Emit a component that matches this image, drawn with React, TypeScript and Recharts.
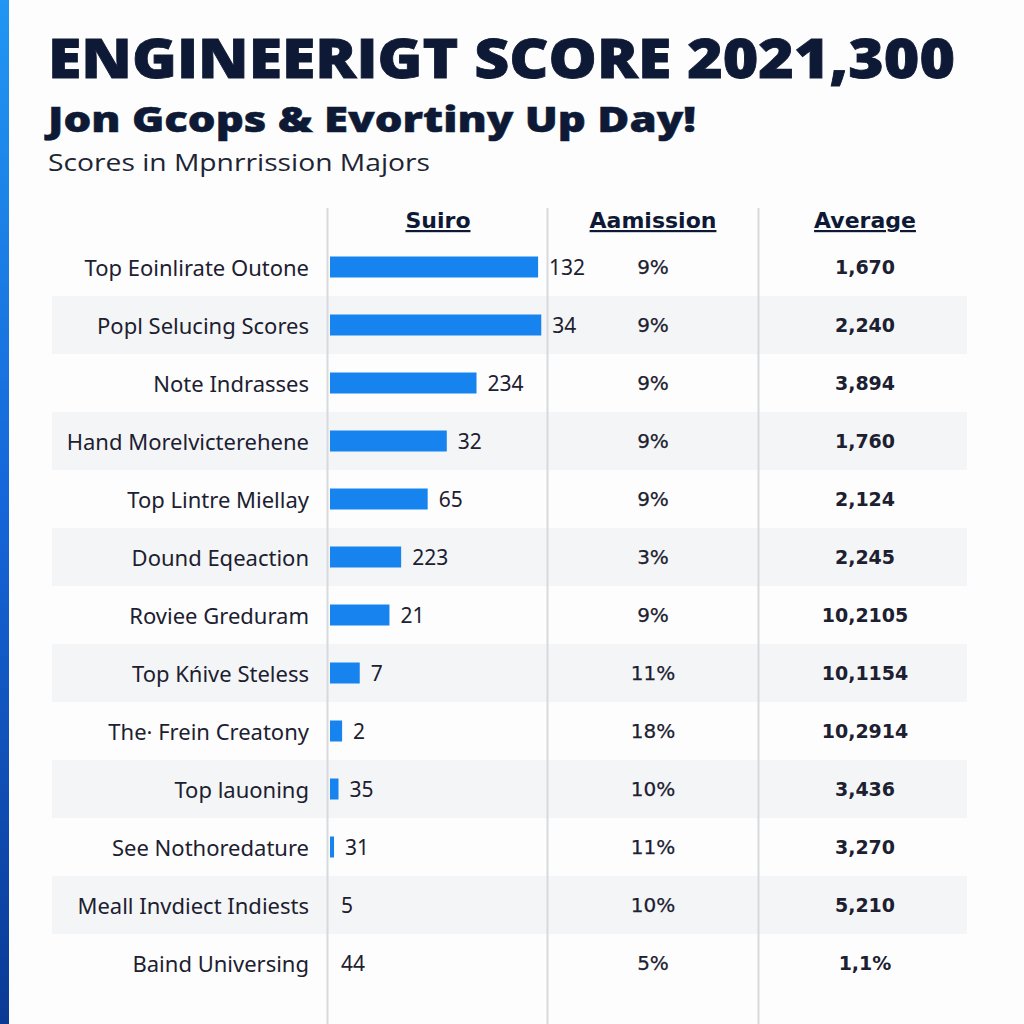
import React from "react";
import { BarChart, Bar, XAxis, YAxis, LabelList } from "recharts";

const majors = [
  "Top Eoinlirate Outone",
  "Popl Selucing Scores",
  "Note Indrasses",
  "Hand Morelvicterehene",
  "Top Lintre Miellay",
  "Dound Eqeaction",
  "Roviee Greduram",
  "Top Kńive Steless",
  "The· Frein Creatony",
  "Top lauoning",
  "See Nothoredature",
  "Meall Invdiect Indiests",
  "Baind Universing",
];
// bar lengths (scale 0-300)
const scoreValues = [98, 99.5, 69, 55, 46, 33.5, 28, 14, 5.7, 4, 1.9, 0, 0];
const scoreLabels = ["132", "34", "234", "32", "65", "223", "21", "7", "2", "35", "31", "5", "44"];
const admissionLabels = ["9%", "9%", "9%", "9%", "9%", "3%", "9%", "11%", "18%", "10%", "11%", "10%", "5%"];
const averageLabels = [
  "1,670", "2,240", "3,894", "1,760", "2,124", "2,245", "10,2105",
  "10,1154", "10,2914", "3,436", "3,270", "5,210", "1,1%",
];
const columnHeaders = ["Suiro", "Aamission", "Average"];

const rows = majors.map((name, i) => ({
  name,
  score: scoreValues[i],
  scoreLabel: scoreLabels[i],
  admission: admissionLabels[i],
  average: averageLabels[i],
}));

const NAVY = "#0e1a35";
const TEXT = "#1c2030";
const BLUE = "#1683ee";

const box = (p: any) => {
  const vb = p.viewBox || {};
  return {
    x: Number(vb.x ?? p.x),
    y: Number(vb.y ?? p.y),
    width: Number(vb.width ?? p.width),
    height: Number(vb.height ?? p.height),
  };
};

function Stripe(props: any) {
  const { y, height, index } = props;
  if (index % 2 === 0) return <g />;
  return <rect x={52} y={y} width={915} height={height} fill="#f4f5f6" />;
}

function ThinBar(props: any) {
  const { x, y, width, height } = props;
  if (!width || width <= 0) return <g />;
  const h = 21;
  return <rect x={x} y={y + (height - h) / 2} width={width} height={h} fill={BLUE} />;
}

function NameTick(props: any) {
  const { x, y, payload } = props;
  return (
    <text x={x} y={y} textAnchor="end" dominantBaseline="central" fontSize={22} fill={TEXT} fontFamily="Noto Sans">
      {payload.value}
    </text>
  );
}

function ScoreLabel(props: any) {
  const b = box(props);
  return (
    <text x={b.x + b.width + 11} y={b.y + b.height / 2} dominantBaseline="central" fontSize={21} fill={TEXT} fontFamily="Noto Sans">
      {props.value}
    </text>
  );
}

const columnLabel = (cx: number, bold: boolean) => (props: any) => {
  const b = box(props);
  return (
    <text
      x={cx}
      y={b.y + b.height / 2}
      textAnchor="middle"
      dominantBaseline="central"
      fontSize={bold ? 19 : 20}
      fontWeight={bold ? 700 : 400}
      fill={TEXT}
      stroke={bold ? "none" : TEXT}
      strokeWidth={bold ? 0 : 0.25}
      fontFamily="DejaVu Sans"
    >
      {props.value}
    </text>
  );
};

export default function App() {
  return (
    <div style={{ position: "absolute", left: 0, top: 0, width: 1024, height: 1024, background: "#fdfdfd", overflow: "hidden" }}>
      <div
        style={{
          position: "absolute", left: 0, top: 0, width: 9, height: 1024,
          background: "linear-gradient(180deg, #2196f3 0%, #1565d8 50%, #0b3a95 100%)",
        }}
      />
      <div style={{ position: "absolute", left: 0, top: 0 }}>
        <BarChart
          width={1024}
          height={1024}
          layout="vertical"
          data={rows}
          margin={{ top: 238, right: 57, bottom: 32, left: 0 }}
          barCategoryGap={0}
        >
          <XAxis type="number" domain={[0, 300]} hide />
          <YAxis
            type="category"
            dataKey="name"
            width={330}
            axisLine={false}
            tickLine={false}
            tickMargin={15}
            interval={0}
            tick={<NameTick />}
          />
          <Bar dataKey="score" isAnimationActive={false} background={Stripe} shape={ThinBar}>
            <LabelList dataKey="scoreLabel" content={ScoreLabel} />
            <LabelList dataKey="admission" content={columnLabel(653, false)} />
            <LabelList dataKey="average" content={columnLabel(865, true)} />
          </Bar>
        </BarChart>
      </div>
      <svg width={1024} height={1024} style={{ position: "absolute", left: 0, top: 0, pointerEvents: "none" }}>
        <text x={48} y={78} fontFamily="Open Sans" fontWeight={800} fontSize={54} fill={NAVY} stroke={NAVY} strokeWidth={0.8} textLength={907} lengthAdjust="spacingAndGlyphs">
          ENGINEERIGT SCORE 2021,300
        </text>
        <text x={48} y={132} fontFamily="Open Sans" fontWeight={800} fontSize={36} fill={NAVY} stroke={NAVY} strokeWidth={0.5} textLength={648} lengthAdjust="spacingAndGlyphs">
          Jon Gcops &amp; Evortiny Up Day!
        </text>
        <text x={48} y={171} fontFamily="Open Sans" fontWeight={400} fontSize={24} fill="#1d2535" textLength={382} lengthAdjust="spacingAndGlyphs">
          Scores in Mpnrrission Majors
        </text>
        {[438, 653, 865].map((cx, i) => (
          <text
            key={columnHeaders[i]}
            x={cx}
            y={228}
            textAnchor="middle"
            fontFamily="DejaVu Sans"
            fontWeight={700}
            fontSize={22}
            fill={NAVY}
            style={{ textDecoration: "underline" }}
          >
            {columnHeaders[i]}
          </text>
        ))}
        {[327.5, 547.5, 758.5].map((x) => (
          <line key={x} x1={x} x2={x} y1={208} y2={1024} stroke="#d6d9dd" strokeWidth={2} />
        ))}
      </svg>
    </div>
  );
}
